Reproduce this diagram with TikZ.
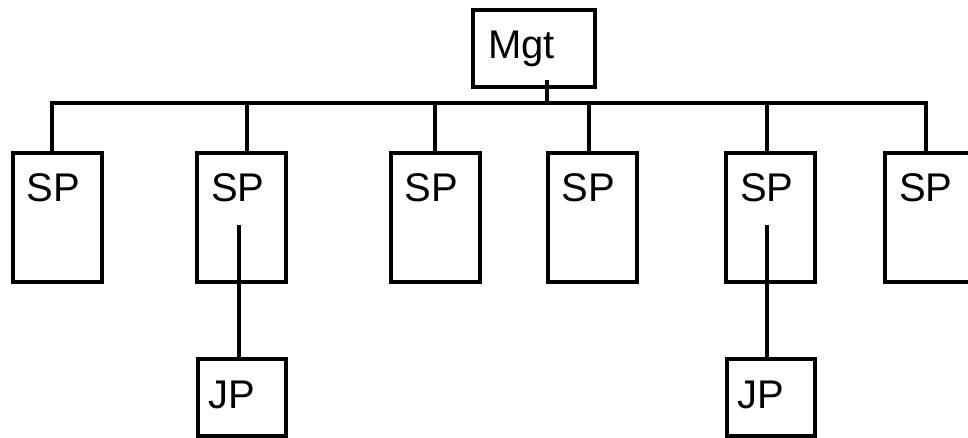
\documentclass[tikz,border=0pt]{standalone}
\usepackage{fontspec}
\setmainfont{Liberation Sans}
\begin{document}
\begin{tikzpicture}[x=1pt,y=-1pt,line width=4pt,
    font=\fontsize{40}{48}\selectfont,
    box/.style={draw,rectangle,line width=4pt,inner ysep=20pt,
      text height=29pt,align=left},
    sp/.style={box,inner xsep=14pt,text width=61pt,text depth=60pt},
    boss/.style={box,inner xsep=15pt,text width=92pt,text depth=8pt},
    jp/.style={box,inner xsep=10pt,text width=68pt,text depth=8pt}]
      \useasboundingbox (0,0) rectangle (968,438);
      \draw
        (534,48.5) node[boss] (mgt){Mgt}
        (57.5,217.5) node[sp] (sp1){SP}
        (241.5,217.5) node[sp] (sp2){SP}
        (435,217.5) node[sp] (sp3){SP}
        (592,217.5) node[sp] (sp4){SP}
        (770.5,217.5) node[sp] (sp5){SP}
        (929.5,217.5) node[sp] (sp6){SP}
        (242,397.5) node[jp] (jp1){JP}
        (771,397.5) node[jp] (jp2){JP};
      \coordinate (busl) at (52,103);
      \coordinate (busr) at (926,103);
      \begin{scope}[-,line cap=rect]
        \draw (busl) to (busr);
        \draw ([xshift=13pt,yshift=7pt]mgt.south) to ([xshift=13pt]mgt.south |- busl);
        \draw ([xshift=-5.5pt]sp1.north) to ([xshift=-5.5pt]sp1.north |- busl);
        \draw ([xshift=5.5pt]sp2.north) to ([xshift=5.5pt]sp2.north |- busl);
        \draw (sp3.north) to (sp3.north |- busl);
        \draw ([xshift=-3pt]sp4.north) to ([xshift=-3pt]sp4.north |- busl);
        \draw ([xshift=-3.5pt]sp5.north) to ([xshift=-3.5pt]sp5.north |- busl);
        \draw ([xshift=-3.5pt]sp6.north) to ([xshift=-3.5pt]sp6.north |- busl);
        \draw ([xshift=-2.5pt,yshift=57pt]sp2.south) to ([xshift=-3pt]jp1.north);
        \draw ([xshift=-3.5pt,yshift=57pt]sp5.south) to ([xshift=-4pt]jp2.north);
      \end{scope}
    \end{tikzpicture}
\end{document}
